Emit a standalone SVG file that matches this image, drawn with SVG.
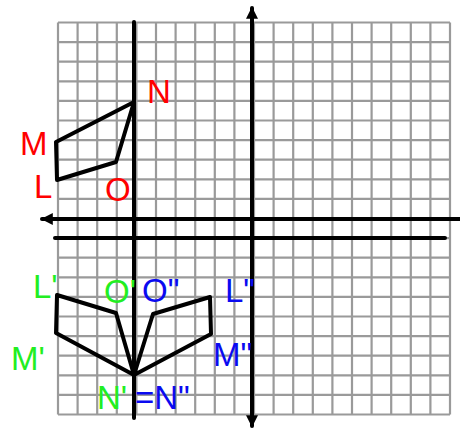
<svg xmlns="http://www.w3.org/2000/svg" width="460" height="431" viewBox="0 0 460 431">
<defs>
<style>
.grid{stroke:#9a9a9a;stroke-width:2.2;fill:none}
.ax{stroke:#000;stroke-width:4;fill:none;stroke-linecap:round}
.shape{stroke:#000;stroke-width:4;fill:none;stroke-linejoin:round;stroke-linecap:round}
.lbl{font-family:"Liberation Sans",Arial,sans-serif;font-size:33px}
.r{fill:#ff0000}
.g{fill:#22ee22}
.b{fill:#0a0af0}
</style>
<marker id="ah" viewBox="0 0 10 10" refX="9" refY="5" markerWidth="3" markerHeight="3" orient="auto" markerUnits="strokeWidth">
<path d="M0,0 L10,5 L0,10 z" fill="#000"/>
</marker>
</defs>
<rect width="460" height="431" fill="#fff"/>
<g id="grid" class="grid">
<path d="M58,22.5V414.5M77.6,22.5V414.5M97.2,22.5V414.5M116.8,22.5V414.5M136.4,22.5V414.5M156,22.5V414.5M175.6,22.5V414.5M195.2,22.5V414.5M214.8,22.5V414.5M234.4,22.5V414.5M254,22.5V414.5M273.6,22.5V414.5M293.2,22.5V414.5M312.8,22.5V414.5M332.4,22.5V414.5M352,22.5V414.5M371.6,22.5V414.5M391.2,22.5V414.5M410.8,22.5V414.5M430.4,22.5V414.5M450,22.5V414.5"/>
<path d="M58,22.5H450M58,42.1H450M58,61.7H450M58,81.3H450M58,100.9H450M58,120.5H450M58,140.1H450M58,159.7H450M58,179.3H450M58,198.9H450M58,218.5H450M58,238.1H450M58,257.7H450M58,277.3H450M58,296.9H450M58,316.5H450M58,336.1H450M58,355.7H450M58,375.3H450M58,394.9H450M58,414.5H450"/>
</g>
<g id="axes">
<line class="ax" x1="460" y1="219" x2="42" y2="219" marker-end="url(#ah)"/>
<line class="ax" x1="252" y1="424" x2="252" y2="8" marker-end="url(#ah)"/>
<line class="ax" x1="252" y1="200" x2="252" y2="426" marker-end="url(#ah)"/>
<line class="ax" x1="134" y1="22" x2="134" y2="418"/>
<line class="ax" x1="55" y1="238" x2="445" y2="238"/>
</g>
<g id="connectors">
<polygon id="MNOL" class="shape" points="134,102 56,142 57,180 116,162"/>
<polygon id="L1M1N1O1" class="shape" points="57,295 56,333 134,375 116,313"/>
<polygon id="L2M2N2O2" class="shape" points="153,314 210,297 211,334 134,375"/>
</g>
<g id="labels" class="lbl">
<g id="N"><text class="r" x="147" y="103">N</text></g>
<g id="M"><text class="r" x="20" y="155">M</text></g>
<g id="L"><text class="r" x="34" y="198">L</text></g>
<g id="O"><text class="r" x="105" y="201">O</text></g>
<g id="L1"><text class="g" x="33" y="298">L'</text></g>
<g id="O1"><text class="g" x="104" y="303">O'</text></g>
<g id="O2"><text class="b" x="142" y="302">O"</text></g>
<g id="L2"><text class="b" x="225" y="302">L"</text></g>
<g id="M1"><text class="g" x="11" y="370">M'</text></g>
<g id="M2"><text class="b" x="213" y="366">M"</text></g>
<g id="N1"><text class="g" x="97" y="409">N'</text></g>
<g id="N2"><text class="b" x="135" y="409">=N"</text></g>
</g>
</svg>
